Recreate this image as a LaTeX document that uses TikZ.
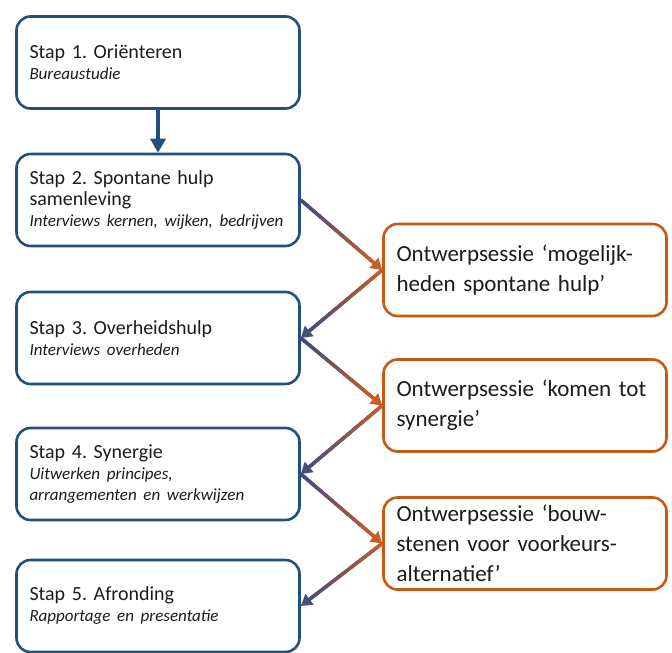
\documentclass[tikz,border=0pt]{standalone}
\usepackage{fontspec}
\setmainfont{Carlito}
\frenchspacing
\usetikzlibrary{arrows.meta,calc}
\definecolor{cblue}{RGB}{33,80,124}
\definecolor{corange}{RGB}{197,90,17}
\definecolor{ctext}{RGB}{28,28,28}
\definecolor{cpblue}{RGB}{52,76,134}
\definecolor{cporange}{RGB}{202,92,38}
\tikzset{
  stapbox/.style={draw=cblue,line width=2.6pt,rounded corners=14pt,fill=white,
    minimum width=283pt,minimum height=92pt,text width=257pt,inner xsep=13pt,
    align=left,text=ctext,font=\fontsize{20}{21}\selectfont},
  sessiebox/.style={stapbox,draw=corange,font=\fontsize{23}{30}\selectfont},
  pijlkop/.style={-{Triangle[length=11pt,width=13pt]}}
}
\newcommand{\stapsub}[1]{\mbox{\fontsize{17}{20}\selectfont\itshape #1}}
% gradient connector: from, to, start colour, end colour
\newcommand{\gradpijl}[4]{%
  \draw[pijlkop,line width=3.4pt,#4] (#1) -- (#2);
  \coordinate (gp-end) at ($(#2)!10pt!(#1)$);
  \foreach \k in {0,...,23}{
    \pgfmathsetmacro\mix{100-\k*100/23}
    \draw[line width=3.4pt,#3!\mix!#4] ($(#1)!\k/24!(gp-end)$) -- ($(#1)!{(\k+1.4)/24}!(gp-end)$);
  }
}

\begin{document}
\begin{tikzpicture}[x=1pt,y=-1pt]
    \useasboundingbox (0,0) rectangle (672,653);
    \node[stapbox] (stap1) at (158,62.5) {Stap 1. Oriënteren\\ \stapsub{Bureaustudie}};
    \node[stapbox] (stap2) at (158,200) {Stap 2. Spontane hulp\\ samenleving\\ \stapsub{Interviews kernen, wijken, bedrijven}};
    \node[stapbox] (stap3) at (158,338) {Stap 3. Overheidshulp\\ \stapsub{Interviews overheden}};
    \node[stapbox] (stap4) at (158,474) {Stap 4. Synergie\\ \stapsub{Uitwerken principes,}\\ \stapsub{arrangementen en werkwijzen}};
    \node[stapbox] (stap5) at (158,606) {Stap 5. Afronding\\ \stapsub{Rapportage en presentatie}};
    \node[sessiebox] (sessie1) at (525,270) {Ontwerpsessie ‘mogelijk-\\ heden spontane hulp’};
    \node[sessiebox] (sessie2) at (525,405.5) {Ontwerpsessie ‘komen tot\\ synergie’};
    \node[sessiebox] (sessie3) at (525,543.5) {Ontwerpsessie ‘bouw-\\ stenen voor voorkeurs-\\ alternatief’};
    \draw[-{Triangle[length=14pt,width=15pt]},cblue,line width=4.5pt] (stap1) -- (stap2);
    \gradpijl{stap2.east}{sessie1.west}{cpblue}{cporange}
    \gradpijl{sessie1.west}{stap3.east}{cporange}{cpblue!88!cporange}
    \gradpijl{stap3.east}{sessie2.west}{cpblue}{cporange}
    \gradpijl{sessie2.west}{stap4.east}{cporange}{cpblue!88!cporange}
    \gradpijl{stap4.east}{sessie3.west}{cpblue}{cporange}
    \gradpijl{sessie3.west}{stap5.east}{cporange}{cpblue!88!cporange}
\end{tikzpicture}
\end{document}
